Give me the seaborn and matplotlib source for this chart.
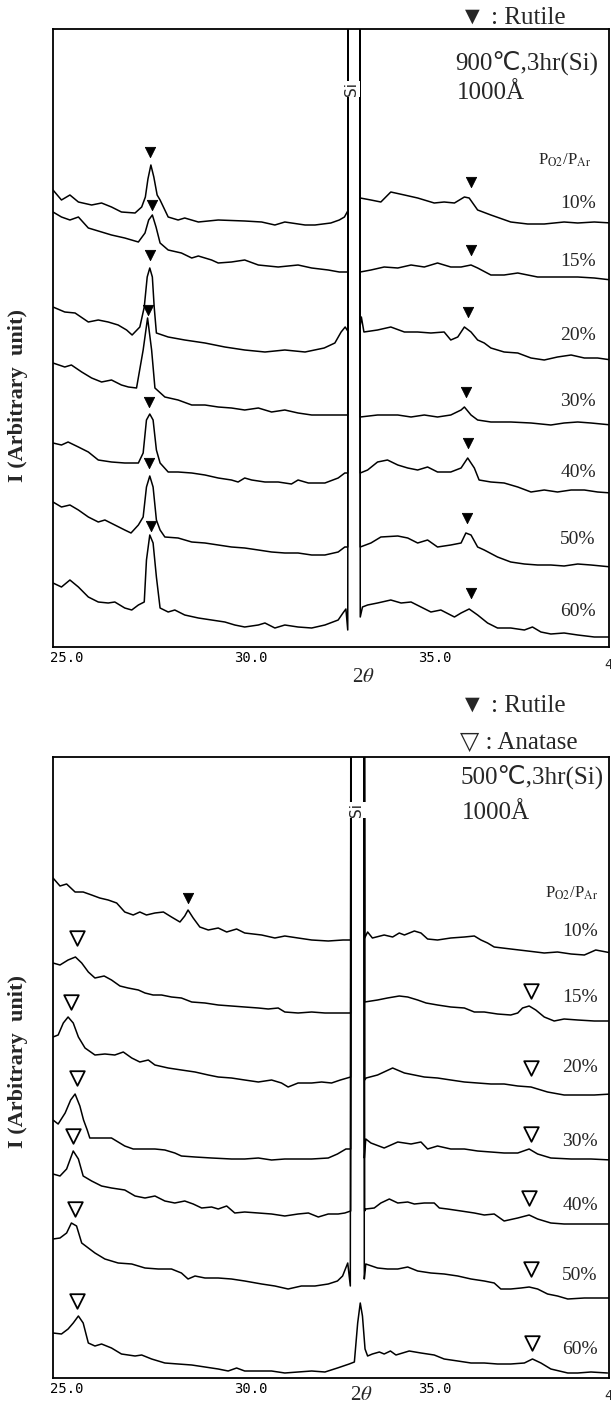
import matplotlib
matplotlib.use('Agg')
import matplotlib.pyplot as plt
import seaborn as sns
import pandas as pd

# ── XRD traces: (2theta, intensity above axis, arb.) ──
# 900C, 3hr (Si) — upper panel
T900_10 = [(24.62,457),(24.85,447),(25.08,452),(25.31,445),(25.67,442),(25.94,444),(26.21,440),(26.48,435),(26.85,434),(27.03,440),(27.13,450),(27.20,468),(27.28,482),(27.36,470),(27.45,452),(27.53,447),(27.75,430),(28.02,427),(28.20,429),(28.57,425),(29.11,427),(29.83,426),(30.29,425),(30.65,422),(30.92,425),(31.47,422),(31.74,422),(32.17,424),(32.40,427),(32.54,430),(32.63,436),(32.80,9000),(32.97,449),(33.26,447),(33.53,445),(33.80,455),(34.17,452),(34.53,449),(34.98,444),(35.25,445),(35.53,444),(35.80,450),(35.93,449),(36.16,437),(36.52,432),(37.06,425),(37.52,423),(37.97,423),(38.51,425),(38.88,424),(39.33,425),(39.80,424)]
T900_15 = [(24.62,435),(24.85,430),(25.08,427),(25.31,430),(25.58,419),(25.94,415),(26.21,412),(26.57,409),(26.94,405),(27.12,414),(27.22,427),(27.32,432),(27.42,420),(27.53,404),(27.75,397),(28.11,394),(28.39,389),(28.57,391),(28.93,387),(29.11,384),(29.47,385),(29.83,387),(30.20,382),(30.74,380),(31.28,382),(31.65,379),(32.10,377),(32.40,375),(32.63,375),(32.80,9000),(32.97,375),(33.26,377),(33.62,380),(33.99,379),(34.35,382),(34.71,380),(35.07,384),(35.43,380),(35.71,380),(35.98,382),(36.16,379),(36.52,372),(36.88,372),(37.25,374),(37.79,370),(38.33,370),(38.88,370),(39.33,369),(39.80,367)]
T900_20 = [(24.62,340),(24.94,335),(25.22,334),(25.58,325),(25.85,327),(26.12,325),(26.39,322),(26.62,317),(26.77,312),(26.98,320),(27.10,340),(27.18,370),(27.25,379),(27.32,370),(27.37,340),(27.43,314),(27.75,310),(28.20,307),(28.75,304),(29.29,300),(29.83,297),(30.38,295),(30.92,297),(31.47,295),(31.99,299),(32.28,304),(32.45,315),(32.56,320),(32.63,316),(32.80,9000),(32.97,322),(33.00,330),(33.07,315),(33.44,317),(33.80,320),(34.17,315),(34.53,315),(34.89,314),(35.25,315),(35.43,307),(35.62,310),(35.80,320),(35.98,315),(36.16,307),(36.34,304),(36.52,299),(36.88,295),(37.25,294),(37.61,289),(37.97,287),(38.33,290),(38.70,292),(39.06,289),(39.42,289),(39.80,287)]
T900_30 = [(24.62,284),(24.94,280),(25.12,282),(25.40,275),(25.67,269),(25.94,265),(26.21,267),(26.48,262),(26.67,260),(26.89,259),(27.07,297),(27.19,329),(27.30,297),(27.39,259),(27.66,250),(28.02,247),(28.39,242),(28.75,242),(29.11,240),(29.47,239),(29.83,237),(30.20,239),(30.56,235),(30.92,237),(31.28,234),(31.65,232),(32.10,232),(32.63,232),(32.80,9000),(32.97,230),(33.44,232),(33.99,232),(34.35,230),(34.71,232),(35.07,230),(35.43,232),(35.71,237),(35.80,240),(35.98,232),(36.16,227),(36.52,225),(37.06,225),(37.61,224),(38.15,222),(38.51,224),(38.88,225),(39.24,224),(39.80,222)]
T900_40 = [(24.62,204),(24.85,202),(25.03,205),(25.31,200),(25.58,195),(25.85,187),(26.21,185),(26.57,184),(26.94,184),(27.07,194),(27.16,227),(27.25,233),(27.34,227),(27.43,197),(27.53,184),(27.75,175),(28.02,175),(28.39,174),(28.75,172),(29.11,169),(29.47,167),(29.65,165),(29.83,169),(30.02,167),(30.38,165),(30.74,165),(31.10,163),(31.28,167),(31.56,164),(32.01,164),(32.37,169),(32.55,174),(32.63,174),(32.80,9000),(32.97,174),(33.17,177),(33.44,185),(33.71,187),(33.99,182),(34.26,179),(34.53,177),(34.80,180),(35.07,175),(35.43,175),(35.71,179),(35.89,189),(36.07,179),(36.20,167),(36.52,165),(36.88,164),(37.25,160),(37.61,155),(37.97,157),(38.33,155),(38.70,157),(39.06,157),(39.42,155),(39.80,154)]
T900_50 = [(24.62,145),(24.85,140),(25.08,142),(25.31,137),(25.58,130),(25.85,125),(26.03,127),(26.30,122),(26.57,117),(26.74,114),(26.94,122),(27.07,130),(27.16,160),(27.25,171),(27.34,160),(27.43,127),(27.53,117),(27.66,110),(28.02,109),(28.39,105),(28.75,104),(29.11,102),(29.47,100),(29.83,99),(30.20,97),(30.56,95),(30.92,94),(31.28,94),(31.65,92),(32.01,92),(32.37,95),(32.55,100),(32.63,100),(32.80,9000),(32.97,100),(33.26,104),(33.53,110),(33.99,111),(34.26,109),(34.53,104),(34.80,107),(35.07,100),(35.43,102),(35.71,104),(35.84,114),(35.98,112),(36.16,100),(36.34,97),(36.70,90),(37.06,85),(37.43,83),(37.79,82),(38.15,82),(38.51,81),(38.88,83),(39.24,82),(39.80,80)]
T900_60 = [(24.62,64),(24.85,60),(25.08,67),(25.31,60),(25.58,50),(25.85,45),(26.12,44),(26.30,45),(26.57,39),(26.76,37),(26.94,42),(27.10,45),(27.16,87),(27.25,112),(27.34,104),(27.43,70),(27.53,39),(27.75,35),(27.93,37),(28.20,32),(28.57,29),(28.93,27),(29.29,25),(29.56,22),(29.83,20),(30.20,22),(30.38,24),(30.65,19),(30.92,22),(31.28,20),(31.65,19),(32.01,22),(32.37,27),(32.50,34),(32.58,38),(32.63,17),(32.80,9000),(32.97,30),(33.03,40),(33.17,42),(33.44,44),(33.80,47),(34.08,44),(34.35,45),(34.62,40),(34.89,35),(35.16,37),(35.53,30),(35.71,34),(35.93,38),(36.16,32),(36.43,24),(36.70,19),(37.06,19),(37.43,17),(37.65,20),(37.88,15),(38.15,13),(38.51,14),(38.88,12),(39.33,10),(39.80,10)]

# 500C, 3hr (Si) — lower panel
B500_10 = [(24.62,500),(24.81,492),(24.99,494),(25.22,486),(25.44,486),(25.67,483),(25.89,480),(26.12,478),(26.35,475),(26.57,466),(26.80,463),(26.98,466),(27.16,463),(27.39,465),(27.62,466),(27.84,461),(28.07,456),(28.20,462),(28.29,468),(28.43,460),(28.61,451),(28.84,448),(29.11,450),(29.34,446),(29.61,449),(29.83,445),(30.29,443),(30.65,440),(30.92,442),(31.28,440),(31.65,438),(32.10,437),(32.50,438),(32.71,438),(32.90,9000),(33.09,440),(33.17,446),(33.30,440),(33.62,443),(33.85,441),(34.03,445),(34.17,443),(34.44,447),(34.62,445),(34.80,439),(35.07,438),(35.43,440),(35.80,441),(36.07,442),(36.25,438),(36.43,435),(36.61,431),(37.06,429),(37.52,427),(37.97,425),(38.33,426),(38.70,424),(39.06,423),(39.37,428),(39.80,425)]
B500_15 = [(24.62,415),(24.81,413),(25.03,418),(25.23,421),(25.40,415),(25.58,406),(25.76,400),(26.01,402),(26.21,398),(26.44,392),(26.66,390),(26.94,388),(27.12,385),(27.34,383),(27.57,383),(27.84,381),(28.11,380),(28.39,376),(28.75,375),(29.11,373),(29.47,372),(29.83,371),(30.20,370),(30.47,369),(30.74,370),(30.92,366),(31.28,365),(31.65,366),(32.01,365),(32.37,365),(32.71,365),(32.90,9000),(33.09,376),(33.44,378),(33.71,380),(34.03,382),(34.26,381),(34.53,378),(34.76,375),(35.07,373),(35.43,371),(35.80,370),(36.07,366),(36.34,366),(36.70,364),(37.06,363),(37.25,365),(37.38,370),(37.56,372),(37.74,368),(37.97,361),(38.24,357),(38.51,359),(38.88,358),(39.33,357),(39.80,357)]
B500_20 = [(24.62,341),(24.76,343),(24.90,355),(25.03,361),(25.17,355),(25.31,341),(25.49,330),(25.76,323),(26.03,324),(26.30,323),(26.53,326),(26.76,320),(26.98,316),(27.21,318),(27.39,313),(27.75,310),(28.11,308),(28.48,306),(28.84,303),(29.11,301),(29.47,300),(29.83,298),(30.20,296),(30.56,298),(30.83,295),(31.01,291),(31.28,295),(31.65,295),(31.92,296),(32.19,295),(32.43,298),(32.71,301),(32.90,9000),(33.09,298),(33.13,300),(33.44,303),(33.85,310),(34.17,305),(34.44,303),(34.71,301),(35.07,300),(35.43,298),(35.80,296),(36.16,295),(36.52,294),(36.88,294),(37.25,292),(37.61,291),(37.88,288),(38.06,286),(38.51,283),(38.88,283),(39.33,283),(39.80,284)]
B500_30 = [(24.62,258),(24.76,254),(24.95,265),(25.10,278),(25.22,284),(25.35,272),(25.45,258),(25.55,248),(25.62,240),(26.03,240),(26.21,240),(26.57,232),(26.80,229),(27.12,229),(27.39,229),(27.66,228),(27.93,225),(28.11,222),(28.48,221),(28.93,220),(29.47,219),(29.83,219),(30.20,220),(30.38,219),(30.56,218),(30.92,219),(31.28,219),(31.65,219),(32.10,220),(32.35,224),(32.58,229),(32.71,229),(32.90,9000),(33.08,220),(33.12,239),(33.26,235),(33.62,230),(33.99,236),(34.35,234),(34.62,236),(34.80,229),(35.07,232),(35.43,229),(35.80,229),(36.16,227),(36.52,226),(36.88,225),(37.25,225),(37.56,229),(37.79,224),(38.15,220),(38.70,219),(39.24,219),(39.80,218)]
B500_40 = [(24.62,204),(24.81,202),(24.99,209),(25.17,227),(25.31,219),(25.44,202),(25.67,197),(25.94,192),(26.21,190),(26.57,188),(26.85,182),(27.12,180),(27.39,182),(27.66,177),(27.93,175),(28.20,177),(28.43,174),(28.66,170),(28.93,171),(29.11,169),(29.34,172),(29.56,165),(29.83,166),(30.20,165),(30.56,164),(30.92,162),(31.28,164),(31.56,165),(31.83,161),(32.10,164),(32.37,164),(32.55,165),(32.71,167),(32.90,9000),(33.09,167),(33.12,169),(33.35,170),(33.53,175),(33.76,179),(33.99,175),(34.26,176),(34.44,174),(34.71,175),(34.98,175),(35.12,170),(35.34,169),(35.71,167),(36.07,165),(36.34,163),(36.61,164),(36.88,157),(37.25,160),(37.56,163),(37.79,159),(38.15,155),(38.51,154),(38.88,154),(39.33,154),(39.80,154)]
B500_50 = [(24.62,139),(24.81,140),(24.99,145),(25.12,155),(25.26,152),(25.40,135),(25.58,130),(25.76,125),(26.03,119),(26.39,115),(26.76,114),(27.12,110),(27.48,109),(27.84,109),(28.11,105),(28.29,99),(28.48,102),(28.75,100),(29.11,100),(29.47,99),(29.83,97),(30.29,94),(30.65,92),(31.01,89),(31.37,92),(31.74,92),(32.10,94),(32.35,97),(32.49,102),(32.63,115),(32.70,92),(32.90,9000),(33.08,99),(33.12,114),(33.44,110),(33.71,109),(33.99,109),(34.26,111),(34.53,107),(34.89,105),(35.25,104),(35.62,102),(35.98,99),(36.34,97),(36.61,95),(36.79,89),(37.06,89),(37.34,90),(37.56,91),(37.79,89),(38.06,84),(38.33,82),(38.61,79),(39.06,80),(39.80,80)]
B500_60 = [(24.62,45),(24.85,44),(25.03,49),(25.17,55),(25.31,62),(25.44,55),(25.58,35),(25.76,32),(25.94,34),(26.21,30),(26.48,24),(26.85,22),(27.03,23),(27.30,19),(27.66,15),(28.02,14),(28.39,13),(28.75,11),(29.11,9),(29.38,7),(29.61,10),(29.83,7),(30.20,7),(30.56,7),(30.92,5),(31.28,6),(31.65,7),(32.01,6),(32.35,10),(32.67,14),(32.81,16),(32.90,55),(32.97,75),(33.03,62),(33.10,29),(33.17,22),(33.30,24),(33.49,26),(33.62,24),(33.79,27),(33.94,23),(34.12,25),(34.30,27),(34.62,25),(34.98,23),(35.25,19),(35.62,17),(35.98,15),(36.34,15),(36.70,14),(37.06,14),(37.43,15),(37.65,19),(37.88,15),(38.15,9),(38.38,7),(38.61,5),(38.88,5),(39.24,6),(39.69,5)]

RATIOS = ['10%', '15%', '20%', '30%', '40%', '50%', '60%']

# phase markers
TOP_RUTILE_X = [27.26, 35.99, 27.30, 35.99, 27.25, 35.90, 27.19, 35.84, 27.23, 35.89, 27.23, 35.87, 27.28, 35.98]
TOP_RUTILE_Y = [495, 465, 442, 397, 392, 335, 337, 255, 245, 204, 184, 129, 121, 54]
BOT_RUTILE_X = [28.29]
BOT_RUTILE_Y = [480]
BOT_ANATASE_X = [25.26, 37.61, 25.12, 37.61, 25.26, 37.61, 25.17, 37.56, 25.22, 37.61, 25.28, 37.65]
BOT_ANATASE_Y = [440, 387, 376, 310, 300, 244, 242, 180, 169, 109, 77, 35]

# label rows (pixels from the top of the image)
TOP_LABEL_ROWS = [203, 262, 335, 402, 472, 540, 612]
BOT_LABEL_ROWS = [932, 998, 1068, 1141, 1206, 1276, 1349]

W, H = 611, 1406
SERIF = ['Liberation Serif', 'DejaVu Sans']


def to_frame(traces):
    rows = []
    for label, pts in zip(RATIOS, traces):
        for tt, ii in pts:
            rows.append((label, tt, ii))
    return pd.DataFrame(rows, columns=['ratio', 'two_theta', 'intensity'])


def fx(px):
    return px / W


def fy(py):
    return 1 - py / H


sns.set_theme(style='white')
plt.rcParams['font.family'] = SERIF
plt.rcParams['mathtext.fontset'] = 'stix'

fig = plt.figure(figsize=(W / 100, H / 100), dpi=100)
ax_top = fig.add_axes([fx(53), fy(647), fx(609) - fx(53), fy(29) - fy(647)])
ax_bot = fig.add_axes([fx(53), fy(1378), fx(609) - fx(53), fy(757) - fy(1378)])

df_top = to_frame([T900_10, T900_15, T900_20, T900_30, T900_40, T900_50, T900_60])
df_bot = to_frame([B500_10, B500_15, B500_20, B500_30, B500_40, B500_50, B500_60])

for ax, df, ytop in [(ax_top, df_top, 618), (ax_bot, df_bot, 621)]:
    sns.lineplot(data=df, x='two_theta', y='intensity', units='ratio',
                 estimator=None, sort=False, color='black', lw=1.1, ax=ax)
    ax.set_xlim(24.62, 39.73)
    ax.set_ylim(0, ytop)
    ax.set_xlabel(''); ax.set_ylabel('')
    ax.set_yticks([])
    ax.set_xticks([25, 30, 35])
    ax.set_xticklabels(['25.0', '30.0', '35.0'], family='DejaVu Sans Mono', fontsize=10)
    ax.tick_params(axis='x', direction='in', length=4, width=1, pad=3, colors='black')
    for sp in ax.spines.values():
        sp.set_color('black'); sp.set_linewidth(1.3); sp.set_visible(True)
    # cut-off "40.0" at the right edge
    ax.text(40.05, -0.018, '40.0', transform=ax.get_xaxis_transform(), ha='center',
            va='top', family='DejaVu Sans Mono', fontsize=10, clip_on=False)

sns.scatterplot(x=TOP_RUTILE_X, y=TOP_RUTILE_Y, marker='v', s=55, color='black',
                edgecolor='black', ax=ax_top, zorder=5)
sns.scatterplot(x=BOT_RUTILE_X, y=BOT_RUTILE_Y, marker='v', s=55, color='black',
                edgecolor='black', ax=ax_bot, zorder=5)
sns.scatterplot(x=BOT_ANATASE_X, y=BOT_ANATASE_Y, marker='v', s=110, facecolor='white',
                edgecolor='black', linewidth=1.3, ax=ax_bot, zorder=5)

# Si labels over the silicon lines
ax_top.text(fx(351), fy(89), 'Si', transform=fig.transFigure, rotation=90, ha='center',
            va='center', family='DejaVu Sans', fontsize=11, zorder=6,
            bbox=dict(facecolor='white', edgecolor='none', pad=1))
ax_bot.text(fx(357), fy(810), 'Si', transform=fig.transFigure, rotation=90, ha='center',
            va='center', family='DejaVu Sans', fontsize=11, zorder=6,
            bbox=dict(facecolor='white', edgecolor='none', pad=1))

# header texts
fig.text(fx(460), fy(18), '▼ : Rutile', va='center', fontsize=18, family=SERIF)
fig.text(fx(455), fy(63), '900℃,3hr(Si)', va='center', fontsize=18, family=SERIF)
fig.text(fx(457), fy(93), '1000Å', va='center', fontsize=18, family=SERIF)
fig.text(fx(460), fy(706), '▼ : Rutile', va='center', fontsize=18, family=SERIF)
fig.text(fx(460), fy(743), '▽ : Anatase', va='center', fontsize=18, family=SERIF)
fig.text(fx(460), fy(777), '500℃,3hr(Si)', va='center', fontsize=18, family=SERIF)
fig.text(fx(462), fy(813), '1000Å', va='center', fontsize=18, family=SERIF)

p_label = r'P$_{\mathrm{O2}}$/P$_{\mathrm{Ar}}$'
fig.text(fx(565), fy(160), p_label, ha='center', va='center', fontsize=12, family=SERIF)
fig.text(fx(572), fy(893), p_label, ha='center', va='center', fontsize=12, family=SERIF)

for lab, row in zip(RATIOS, TOP_LABEL_ROWS):
    fig.text(fx(578), fy(row), lab, ha='center', va='center', fontsize=14, family=SERIF)
for lab, row in zip(RATIOS, BOT_LABEL_ROWS):
    fig.text(fx(580), fy(row), lab, ha='center', va='center', fontsize=14, family=SERIF)

# axis titles
for row in (395, 1062):
    fig.text(fx(18), fy(row), 'I (Arbitrary  unit)', rotation=90, ha='center',
             va='center', fontsize=16, fontweight='bold', family=SERIF)
fig.text(fx(363), fy(677), r'2$\theta$', ha='center', va='center', fontsize=15)
fig.text(fx(361), fy(1396), r'2$\theta$', ha='center', va='center', fontsize=15)

fig.savefig('out.png', dpi=100, facecolor='white')
